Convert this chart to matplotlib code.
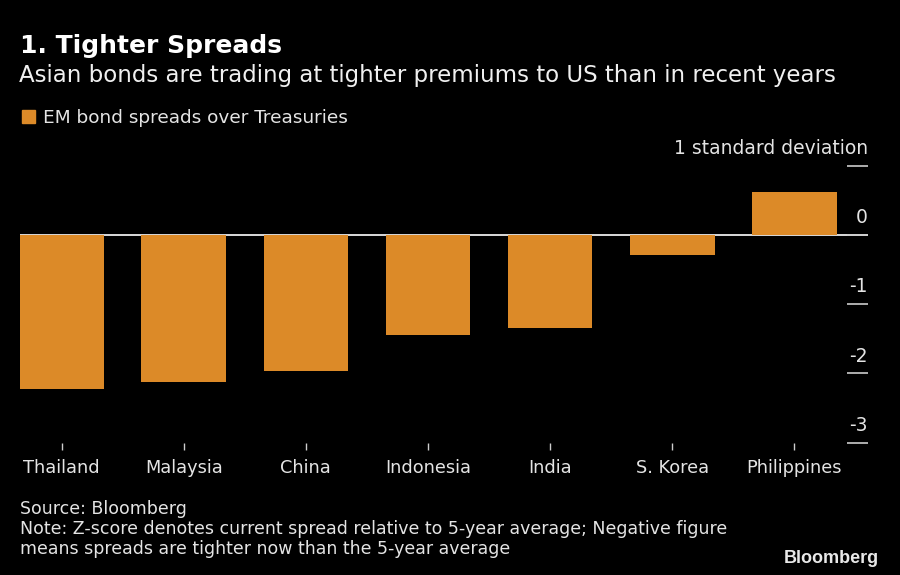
import matplotlib.pyplot as plt

# данные: z-score спредов к UST
countries = ["Thailand", "Malaysia", "China", "Indonesia", "India", "S. Korea", "Philippines"]
zscores = [-2.22, -2.12, -1.96, -1.45, -1.35, -0.29, 0.62]
yticks = [1, 0, -1, -2, -3]
ytick_labels = ["1 standard deviation", "0", "-1", "-2", "-3"]

bar_color = "#dc8a28"
txt = "#e4e4e4"
body = "DejaVu Sans"

fig = plt.figure(figsize=(9, 5.75), dpi=100, facecolor="black")
ax = fig.add_axes([0.0222, 0.2301, 0.9422, 0.4818], facecolor="black")

x = range(len(countries))
ax.axhline(0, color="white", lw=1.2, zorder=1)
ax.bar(x, zscores, width=0.693, color=bar_color, zorder=2)

ax.set_xlim(-0.341, 6.603)
ax.set_ylim(-3, 1)
for s in ax.spines.values():
    s.set_visible(False)

ax.set_xticks(list(x))
ax.set_xticklabels(countries, fontsize=12.8, color=txt, fontfamily=body)
ax.tick_params(axis="x", direction="out", length=5, width=1, color="#cccccc", pad=7)

ax.yaxis.tick_right()
ax.set_yticks(yticks)
ax.set_yticklabels([])
ax.tick_params(axis="y", direction="in", length=15, width=1.2, color="#cccccc")
# подписи оси Y над засечками
for v, lab in zip(yticks, ytick_labels):
    ax.text(1.0, v + 0.17, lab, transform=ax.get_yaxis_transform(),
            ha="right", va="baseline", fontsize=13.5, color=txt, fontfamily=body)

fig.text(0.022, 0.908, "1. Tighter Spreads", fontsize=18, fontweight="bold",
         color="white", fontfamily="DejaVu Sans")
fig.text(0.021, 0.858, "Asian bonds are trading at tighter premiums to US than in recent years",
         fontsize=16.5, color="#f0f0f0", fontfamily=body)

fig.patches.append(plt.Rectangle((22 / 900, 1 - 123 / 575), 13 / 900, 13 / 575,
                                 transform=fig.transFigure, color=bar_color))
fig.text(0.0478, 0.7855, "EM bond spreads over Treasuries", fontsize=13.3,
         color=txt, fontfamily=body)

fig.text(0.022, 1 - 514 / 575, "Source: Bloomberg", fontsize=12.5, color=txt, fontfamily=body)
fig.text(0.022, 1 - 534 / 575,
         "Note: Z-score denotes current spread relative to 5-year average; Negative figure",
         fontsize=12.5, color=txt, fontfamily=body)
fig.text(0.022, 1 - 554 / 575, "means spreads are tighter now than the 5-year average",
         fontsize=12.5, color=txt, fontfamily=body)
fig.text(0.977, 1 - 563 / 575, "Bloomberg", fontsize=13, fontweight="bold",
         color="#e8e8e8", fontfamily="Liberation Sans", ha="right")

fig.savefig("out.png", facecolor="black")
